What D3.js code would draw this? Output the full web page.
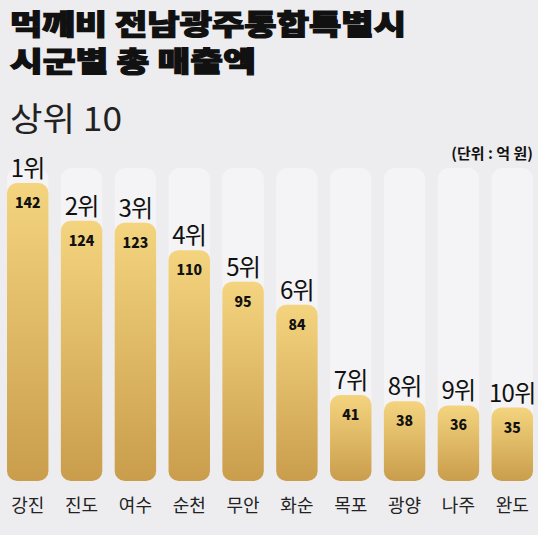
<!DOCTYPE html>
<html>
<head>
<meta charset="utf-8">
<script src="https://cdn.jsdelivr.net/npm/d3@7"></script>
<style>
  html, body { margin: 0; padding: 0; background: #edecef; }
  svg { display: block; font-family: "Noto Sans CJK KR", "Noto Sans", sans-serif; }
</style>
</head>
<body>
<div id="chart"></div>
<script>
// --------------- Data ---------------
const regions = ["강진", "진도", "여수", "순천", "무안", "화순", "목포", "광양", "나주", "완도"];
const sales = [142, 124, 123, 110, 95, 84, 41, 38, 36, 35];
const ranks = ["1위", "2위", "3위", "4위", "5위", "6위", "7위", "8위", "9위", "10위"];
const titleLines = ["먹깨비 전남광주통합특별시", "시군별 총 매출액"];
const subtitle = "상위 10";
const unitLabel = "(단위 : 억 원)";

// --------------- Constants ---------------
const WIDTH = 538;
const HEIGHT = 535;
const BOTTOM = 481;
const TRACK_TOP = 168;
const TITLE_WIDTHS = [396, 246]; // stretch to match the wide display face

const svg = d3
  .select("#chart")
  .append("svg")
  .attr("width", WIDTH)
  .attr("height", HEIGHT);

const defs = svg.append("defs");
const grad = defs
  .append("linearGradient")
  .attr("id", "gold")
  .attr("x1", 0).attr("y1", 0)
  .attr("x2", 0).attr("y2", 1);
grad.append("stop").attr("offset", "0%").attr("stop-color", "#f4d47f");
grad.append("stop").attr("offset", "100%").attr("stop-color", "#c99d4c");

// --------------- Scales ---------------
const x = d3.scaleBand().domain(regions).range([0, 540]).paddingInner(0.23).paddingOuter(0.13);
const y = d3.scaleLinear().domain([0, 142]).range([BOTTOM, 183]);

// --------------- Titles ---------------
svg.selectAll("text.title")
  .data(titleLines)
  .enter()
  .append("text")
  .attr("class", "title")
  .attr("x", 10)
  .attr("y", (_d, i) => 35 + i * 37)
  .attr("font-size", 28)
  .attr("font-weight", 900)
  .attr("fill", "#111")
  .attr("stroke", "#111")
  .attr("stroke-width", 1.2)
  .attr("textLength", (_d, i) => TITLE_WIDTHS[i])
  .attr("lengthAdjust", "spacingAndGlyphs")
  .text((d) => d);

svg.append("text")
  .attr("x", 10)
  .attr("y", 131)
  .attr("font-size", 33)
  .attr("font-weight", 400)
  .attr("fill", "#222")
  .attr("textLength", 112)
  .attr("lengthAdjust", "spacingAndGlyphs")
  .text(subtitle);

svg.append("text")
  .attr("x", 533)
  .attr("y", 159)
  .attr("text-anchor", "end")
  .attr("font-size", 15)
  .attr("font-weight", 700)
  .attr("fill", "#111")
  .text(unitLabel);

// --------------- Bars ---------------
const rows = regions.map((r, i) => ({ region: r, value: sales[i], rank: ranks[i] }));
const g = svg.append("g");

g.selectAll("rect.track")
  .data(rows)
  .enter()
  .append("rect")
  .attr("class", "track")
  .attr("x", (d) => x(d.region))
  .attr("y", TRACK_TOP)
  .attr("width", x.bandwidth())
  .attr("height", BOTTOM - TRACK_TOP)
  .attr("rx", 11)
  .attr("fill", "#f4f3f5");

g.selectAll("rect.bar")
  .data(rows)
  .enter()
  .append("rect")
  .attr("class", "bar")
  .attr("x", (d) => x(d.region))
  .attr("y", (d) => y(d.value))
  .attr("width", x.bandwidth())
  .attr("height", (d) => BOTTOM - y(d.value))
  .attr("rx", 10)
  .attr("fill", "url(#gold)");

g.selectAll("text.value")
  .data(rows)
  .enter()
  .append("text")
  .attr("class", "value")
  .attr("x", (d) => x(d.region) + x.bandwidth() / 2)
  .attr("y", (d) => y(d.value) + 25)
  .attr("text-anchor", "middle")
  .attr("font-size", 14)
  .attr("font-weight", 900)
  .attr("fill", "#111")
  .text((d) => d.value);

g.selectAll("text.rank")
  .data(rows)
  .enter()
  .append("text")
  .attr("class", "rank")
  .attr("x", (d) => x(d.region) + x.bandwidth() / 2)
  .attr("y", (d) => y(d.value) - 6)
  .attr("text-anchor", "middle")
  .attr("font-size", 24)
  .attr("font-weight", 400)
  .attr("letter-spacing", -0.8)
  .attr("fill", "#111")
  .text((d) => d.rank);

g.selectAll("text.region")
  .data(rows)
  .enter()
  .append("text")
  .attr("class", "region")
  .attr("x", (d) => x(d.region) + x.bandwidth() / 2)
  .attr("y", 512)
  .attr("text-anchor", "middle")
  .attr("font-size", 18)
  .attr("fill", "#222")
  .text((d) => d.region);
</script>
</body>
</html>
